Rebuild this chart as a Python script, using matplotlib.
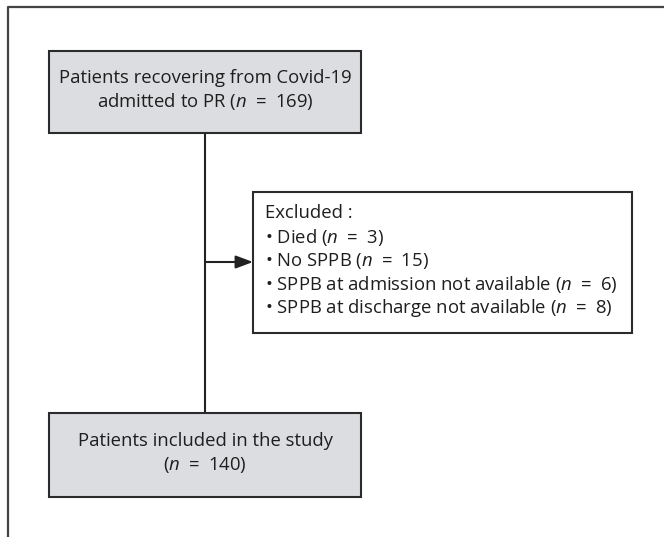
import matplotlib
matplotlib.use("Agg")
import matplotlib.pyplot as plt
from matplotlib.patches import Rectangle

plt.rcParams['font.family'] = ['Open Sans', 'DejaVu Sans']
plt.rcParams['mathtext.fontset'] = 'custom'
plt.rcParams['mathtext.rm'] = 'Open Sans'
plt.rcParams['mathtext.it'] = 'Open Sans:italic'

N = r'$\mathit{n}$'
EQ = '\u2002=\u2002'

top_lines = ["Patients recovering from Covid-19", f"admitted to PR ({N}{EQ}169)"]
excluded_title = "Excluded :"
excluded_items = [f"Died ({N}{EQ}3)", f"No SPPB ({N}{EQ}15)",
                  f"SPPB at admission not available ({N}{EQ}6)",
                  f"SPPB at discharge not available ({N}{EQ}8)"]
bottom_lines = ["Patients included in the study", f"({N}{EQ}140)"]

FILL = '#dcdde0'
EDGE = '#2b2b2b'
TXT = '#1e1e1e'
FS = 13.3

fig = plt.figure(figsize=(6.64, 5.37), dpi=100)
ax = fig.add_axes([0, 0, 1, 1])
ax.set_xlim(0, 664)
ax.set_ylim(537, 0)
ax.axis('off')

# outer frame (top and left only)
ax.plot([8, 8, 664], [537, 7, 7], color='#444444', lw=1.6, solid_capstyle='butt')


def box(x0, y0, x1, y1, fill):
    ax.add_patch(Rectangle((x0, y0), x1 - x0, y1 - y0, facecolor=fill,
                           edgecolor=EDGE, lw=1.5, zorder=2))


# connector
ax.plot([205, 205], [133, 413], color='#222222', lw=1.5, zorder=1)
ax.annotate('', xy=(253, 262), xytext=(205, 262),
            arrowprops=dict(arrowstyle='-|>,head_length=0.8,head_width=0.3',
                            color='#222222', lw=1.5,
                            mutation_scale=13, shrinkA=0, shrinkB=0))

box(49, 51, 361, 133, FILL)
for i, s in enumerate(top_lines):
    ax.text(205, 78 + 24 * i, s, ha='center', va='center', fontsize=FS, color=TXT, zorder=3)

box(253, 192, 632, 333, 'white')
ax.text(265, 213, excluded_title, ha='left', va='center', fontsize=FS, color=TXT, zorder=3)
for i, s in enumerate(excluded_items):
    ax.text(265, 237 + 23.7 * i, "• " + s, ha='left', va='center', fontsize=FS,
            color=TXT, zorder=3)

box(49, 413, 361, 497, FILL)
for i, s in enumerate(bottom_lines):
    ax.text(205, 441 + 24 * i, s, ha='center', va='center', fontsize=FS, color=TXT, zorder=3)

fig.savefig('out.png', dpi=100)
